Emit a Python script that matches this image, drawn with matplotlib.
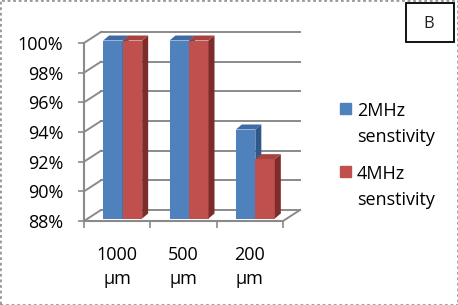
import numpy as np
import matplotlib
matplotlib.use('Agg')
import matplotlib.pyplot as plt
from matplotlib.patches import Polygon, Rectangle

categories = ['1000\nµm', '500\nµm', '200\nµm']
series_names = ['2MHz\nsenstivity', '4MHz\nsenstivity']
sens_2mhz = [100, 100, 94]
sens_4mhz = [100, 100, 92]
yticks = [88, 90, 92, 94, 96, 98, 100]

front_col = ['#4F81BD', '#C0504D']
side_col = ['#2E5888', '#7D2C2A']
top_col = ['#3E6BA5', '#A8423F']
grid = '#8A8A8A'

plt.rcParams['font.family'] = ['Open Sans', 'DejaVu Sans']
FS = 13

W, H = 458, 305
fig = plt.figure(figsize=(W / 100, H / 100), dpi=100)
ax = fig.add_axes([84 / W, 1 - 221 / H, (283 - 84) / W, (221 - 43) / H])
ax.set_xlim(0, 3)
ax.set_ylim(88, 100)

# data units per pixel, for the fake 3d depth
p0 = ax.transData.transform((0, 88))
p1 = ax.transData.transform((1, 90))
ux = 1 / (p1[0] - p0[0])
uy = 2 / (p1[1] - p0[1])

wall_dx, wall_dy = 17 * ux, 11 * uy      # back wall offset
bar_dx, bar_dy = 5.5 * ux, 2.5 * uy      # bar front face offset
dep_dx, dep_dy = 6 * ux, 5 * uy          # bar depth

# back wall gridlines + left wall diagonals
for y in yticks:
    ax.plot([wall_dx, 3 + wall_dx], [y + wall_dy] * 2, color=grid, lw=1.4,
            clip_on=False, zorder=1)
    ax.plot([0, wall_dx], [y, y + wall_dy], color=grid, lw=1.4,
            clip_on=False, zorder=1)
# floor right edge
ax.plot([3, 3 + wall_dx], [88, 88 + wall_dy], color=grid, lw=1.4,
        clip_on=False, zorder=1)

# bars
w = 19.5 * ux
x = np.arange(len(categories)) + 0.5
for s, vals in enumerate([sens_2mhz, sens_4mhz]):
    left = x - w + s * w + bar_dx
    b = 88 + bar_dy
    ax.bar(left, np.array(vals) - 88, width=w, bottom=b, align='edge',
           color=front_col[s], clip_on=False, zorder=3 + s)
    for xl, v in zip(left, vals):
        xr = xl + w
        t = v + bar_dy
        ax.add_patch(Polygon([(xr, b), (xr, t), (xr + dep_dx, t + dep_dy),
                              (xr + dep_dx, b + dep_dy)],
                             closed=True, color=side_col[s], lw=0,
                             clip_on=False, zorder=3 + s))
        ax.add_patch(Polygon([(xl, t), (xr, t), (xr + dep_dx, t + dep_dy),
                              (xl + dep_dx, t + dep_dy)],
                             closed=True, color=top_col[s], lw=0,
                             clip_on=False, zorder=3 + s))

# axes
for sp in ['top', 'right']:
    ax.spines[sp].set_visible(False)
for sp in ['left', 'bottom']:
    ax.spines[sp].set_color(grid)
    ax.spines[sp].set_linewidth(1.5)
ax.set_yticks(yticks, [f'{v}%' for v in yticks])
ax.tick_params(axis='y', direction='out', length=4.5, width=1.2, color=grid,
               labelsize=FS, pad=10.5, labelcolor='black')
ax.set_xticks([0, 1, 2, 3], [''] * 4)
ax.tick_params(axis='x', which='major', direction='out', length=5,
               width=1.2, color=grid)
ax.set_xticks(x, categories, minor=True)
ax.tick_params(axis='x', which='minor', length=0, pad=18, labelsize=FS)
for lab in ax.get_xticklabels(minor=True):
    lab.set_linespacing(1.4)

# legend
leg_y = [103, 166]
for s, name in enumerate(series_names):
    fig.add_artist(Rectangle((340 / W, 1 - (leg_y[s] + 11) / H), 11 / W, 11 / H,
                             transform=fig.transFigure, color=front_col[s]))
    fig.text(357 / W, 1 - (leg_y[s] - 1) / H, name, fontsize=FS, va='top',
             ha='left', linespacing=1.6)

# "B" box
fig.add_artist(Rectangle((406 / W, 1 - 42 / H), 48 / W, 39 / H,
                         transform=fig.transFigure, fill=False,
                         ec='black', lw=1.3))
fig.text(429 / W, 1 - 24 / H, 'B', fontsize=12, ha='center', va='center',
         color='#222222')

# dotted outer frame
fig.add_artist(Rectangle((0, 0), 1, 1, transform=fig.transFigure, fill=False,
                         ec='#999999', lw=2, ls=(0, (1, 1))))

fig.savefig('out.png', dpi=100)
